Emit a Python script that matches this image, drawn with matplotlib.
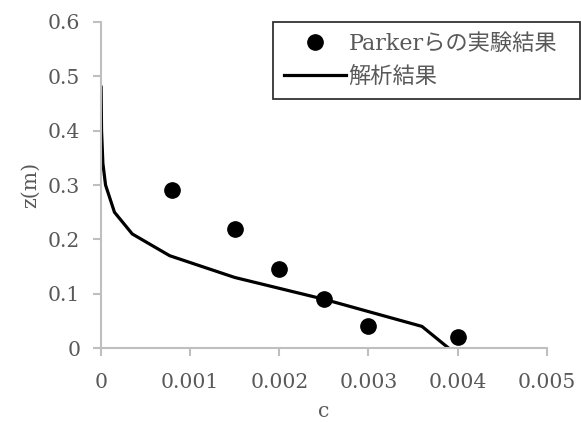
import numpy as np
import matplotlib.pyplot as plt

plt.rcParams['font.family'] = ['DejaVu Serif', 'Noto Sans CJK JP']

# 実験結果 (Parker)
c_exp = [0.0008, 0.0015, 0.002, 0.0025, 0.003, 0.004]
z_exp = [0.29, 0.22, 0.145, 0.09, 0.04, 0.02]

# 解析結果
c_calc = [0.0, 0.000005, 0.00002, 0.00005, 0.00015, 0.00035, 0.00077,
          0.0015, 0.0025, 0.0036, 0.0039]
z_calc = [0.48, 0.40, 0.34, 0.30, 0.25, 0.21, 0.17, 0.13, 0.09, 0.04, 0.0]

xticks = [0, 0.001, 0.002, 0.003, 0.004, 0.005]
xtick_labels = ['0', '0.001', '0.002', '0.003', '0.004', '0.005']
yticks = [0, 0.1, 0.2, 0.3, 0.4, 0.5, 0.6]
ytick_labels = ['0', '0.1', '0.2', '0.3', '0.4', '0.5', '0.6']

grey = '#595959'
axis_grey = '#bfbfbf'

fig = plt.figure(figsize=(5.81, 4.22), dpi=100)
ax = fig.add_axes([0.174, 0.175, 0.767, 0.773])

ax.plot(c_exp, z_exp, 'o', color='black', markersize=11, label='Parkerらの実験結果')
ax.plot(c_calc, z_calc, '-', color='black', linewidth=2.3, label='解析結果')

ax.set_xlim(0, 0.005)
ax.set_ylim(0, 0.6)
ax.set_xticks(xticks)
ax.set_xticklabels(xtick_labels)
ax.set_yticks(yticks)
ax.set_yticklabels(ytick_labels)

for s in ['top', 'right']:
    ax.spines[s].set_visible(False)
for s in ['left', 'bottom']:
    ax.spines[s].set_color(axis_grey)
    ax.spines[s].set_linewidth(1.5)
ax.tick_params(axis='both', colors=axis_grey, labelcolor=grey, labelsize=14.7,
               length=6, width=1.5, direction='out')
ax.tick_params(axis='x', pad=12)
ax.tick_params(axis='y', pad=9)

ax.set_xlabel('c', fontsize=14.7, color=grey, labelpad=7)
ax.set_ylabel('z(m)', fontsize=14.7, color=grey, labelpad=6)

leg = ax.legend(loc='upper left', bbox_to_anchor=(273 / 581, 1 - 22 / 422, 307 / 581, 0),
                bbox_transform=fig.transFigure, mode='expand',
                frameon=True, fancybox=False, fontsize=16, handlelength=2.8,
                handletextpad=0.1, borderpad=0.5, borderaxespad=0,
                labelspacing=0.5)
leg.get_frame().set_edgecolor('black')
leg.get_frame().set_linewidth(1.3)
for t in leg.get_texts():
    t.set_color(grey)

fig.savefig('out.png', dpi=100)
